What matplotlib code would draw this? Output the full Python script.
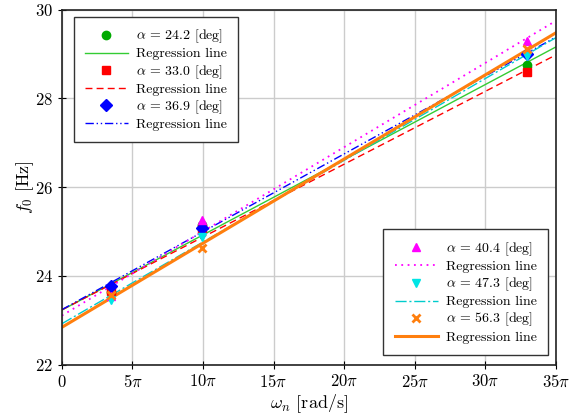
import numpy as np
import matplotlib
matplotlib.use("Agg")
import matplotlib.pyplot as plt
from matplotlib.ticker import MultipleLocator, FuncFormatter

plt.rcParams['font.family'] = 'serif'
plt.rcParams['font.serif'] = ['cmr10', 'DejaVu Serif']
plt.rcParams['mathtext.fontset'] = 'cm'
plt.rcParams['axes.formatter.use_mathtext'] = True

# Data (omega_n in units of pi)
omega_pi = [3.45, 9.9, 32.95]
alphas = ["24.2", "33.0", "36.9", "40.4", "47.3", "56.3"]
f0_242 = [23.63, 25.14, 28.76]
f0_330 = [23.65, 25.05, 28.60]
f0_369 = [23.77, 25.07, 29.00]
f0_404 = [23.55, 25.25, 29.30]
f0_473 = [23.45, 24.88, 28.96]
f0_563 = [23.57, 24.62, 29.11]

series = [f0_242, f0_330, f0_369, f0_404, f0_473, f0_563]
colors = ['#00aa00', '#ff0000', '#0000ff', '#ff00ff', '#00e5e5', '#ff7f0e']
markers = ['o', 's', 'D', '^', 'v', 'x']
lcolors = ['#33cc33', '#ff0000', '#0000ff', '#ff00ff', '#00cccc', '#ff7f0e']
lstyles = ['-', (0, (5, 3)), (0, (6, 2, 1, 2, 1, 2)), (0, (1, 2.5)), (0, (8, 2, 1.5, 2)), '-']
lwidths = [1.0, 1.0, 1.0, 1.3, 1.0, 2.2]

fig = plt.figure(figsize=(5.73, 4.2), dpi=100)
ax = fig.add_axes([0.108, 0.132, 0.862, 0.845])

x = np.array(omega_pi) * np.pi
xl = np.array([0, 35 * np.pi])
handles = []
for i, ys in enumerate(series):
    h1 = ax.plot(x, ys, linestyle='none', marker=markers[i], color=colors[i],
                 markersize=6, markeredgewidth=2 if markers[i] == 'x' else 1,
                 label=r'$\alpha$ = %s [deg]' % alphas[i], zorder=3)[0]
    p = np.polyfit(x, ys, 1)
    h2 = ax.plot(xl, np.polyval(p, xl), color=lcolors[i], linestyle=lstyles[i],
                 linewidth=lwidths[i], label='Regression line', zorder=2)[0]
    handles += [h1, h2]

ax.set_xlim(0, 35 * np.pi)
ax.set_ylim(22, 30)
ax.xaxis.set_major_locator(MultipleLocator(5 * np.pi))
ax.yaxis.set_major_locator(MultipleLocator(2))

def fmt(v, pos):
    n = int(round(v / np.pi))
    return r'$0$' if n == 0 else r'$%d\pi$' % n

ax.xaxis.set_major_formatter(FuncFormatter(fmt))
ax.yaxis.set_major_formatter(FuncFormatter(lambda v, p: r'$%d$' % v))
ax.tick_params(direction='inout', length=6, labelsize=12, width=0.8)
ax.grid(True, color='#cccccc', linewidth=1)
ax.set_axisbelow(True)
for s in ax.spines.values():
    s.set_linewidth(1.2)
    s.set_color('#222222')

ax.set_xlabel(r'$\omega_n$ [rad/s]', fontsize=13, labelpad=2)
ax.set_ylabel(r'$f_0$ [Hz]', fontsize=13, labelpad=-1)

common = dict(fontsize=10, fancybox=False, edgecolor='#333333', framealpha=1,
              handlelength=3.1, borderpad=0.8, labelspacing=0.18,
              handletextpad=0.6)
leg1 = ax.legend(handles=handles[:6], loc='upper left',
                 bbox_to_anchor=(0.01, 1.0), **common)
ax.add_artist(leg1)
ax.legend(handles=handles[6:], loc='lower right',
          bbox_to_anchor=(0.998, 0.008), **common)

fig.savefig('out.png', dpi=100)
